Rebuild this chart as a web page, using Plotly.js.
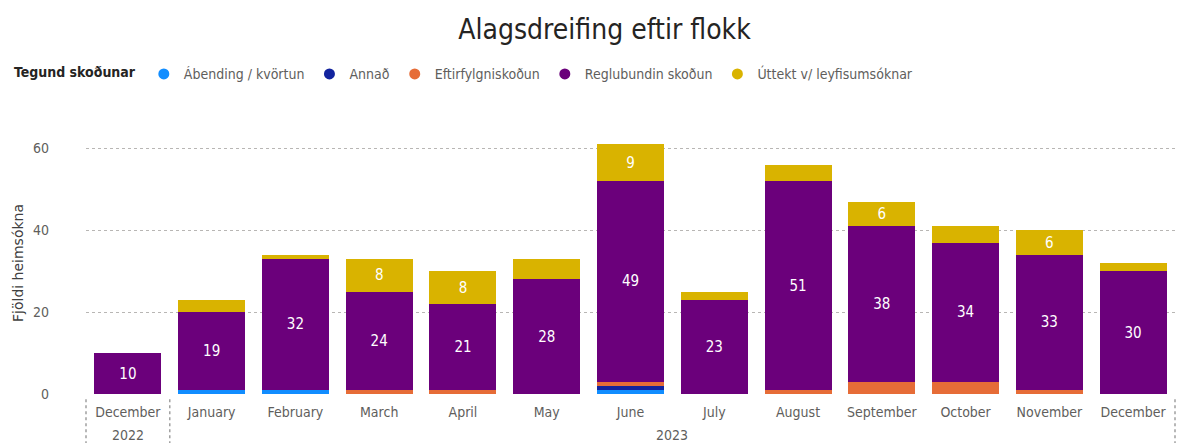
<!DOCTYPE html>
<html>
<head>
<meta charset="utf-8">
<script src="https://cdn.plot.ly/plotly-3.0.1.min.js"></script>
<style>
html,body{margin:0;padding:0;background:#fff;}
#chart{width:1190px;height:443px;}
</style>
</head>
<body>
<div id="chart"></div>
<script>
const years = ['2022','2023','2023','2023','2023','2023','2023','2023','2023','2023','2023','2023','2023'];
const months = ['December','January','February','March','April','May','June','July','August','September','October','November','December'];
const yearLabels = ['2022','2023'];
const seriesNames = ['Ábending / kvörtun','Annað','Eftirfylgniskoðun','Reglubundin skoðun','Úttekt v/ leyfisumsóknar'];
const abending = [0,1,1,0,0,0,1,0,0,0,0,0,0];
const annad    = [0,0,0,0,0,0,1,0,0,0,0,0,0];
const eftir    = [0,0,0,1,1,0,1,0,1,3,3,1,0];
const regl     = [10,19,32,24,21,28,49,23,51,38,34,33,30];
const uttekt   = [0,3,1,8,8,5,9,2,4,6,4,6,2];
const colors = ['#118DFF','#12239E','#E66C37','#6B007B','#D9B300'];

const FONT = '"DejaVu Sans Condensed","Liberation Sans Narrow",sans-serif';
const categories = months.map((m, i) => m + ' ' + years[i]);
const values = [abending, annad, eftir, regl, uttekt];
const minLabel = [99, 99, 99, 1, 6];

const traces = [];
values.forEach((vals, i) => {
  traces.push({
    type: 'bar',
    name: seriesNames[i],
    x: categories,
    y: vals,
    marker: {color: colors[i], line: {width: 0}},
    text: vals.map(v => v >= minLabel[i] ? String(v) : ''),
    textposition: 'inside',
    insidetextanchor: 'middle',
    textfont: {color: '#FFFFFF', size: 15, family: FONT},
    constraintext: 'none',
    hoverinfo: 'y+name',
    showlegend: false,
    legendgroup: 'g' + i
  });
});
// legend entries with round markers
seriesNames.forEach((n, i) => {
  traces.push({
    type: 'scatter',
    mode: 'markers',
    name: n,
    x: [null],
    y: [null],
    marker: {color: colors[i], size: 11, symbol: 'circle'},
    showlegend: true,
    legendgroup: 'g' + i,
    hoverinfo: 'skip'
  });
});

// year label positions: centre of each year's months
const yearAnn = yearLabels.map(yr => {
  const idx = years.map((y, i) => y === yr ? i : -1).filter(i => i >= 0);
  const centre = (idx[0] + idx[idx.length - 1]) / 2;
  return {
    text: yr, x: centre, xref: 'x', y: -0.155, yref: 'paper',
    showarrow: false, yanchor: 'middle', xanchor: 'center',
    font: {size: 14, color: '#605E5C', family: FONT}
  };
});

const layout = {
  width: 1190,
  height: 443,
  margin: {l: 83, r: 15, t: 132, b: 49},
  paper_bgcolor: '#ffffff',
  plot_bgcolor: '#ffffff',
  barmode: 'stack',
  bargap: 0.2,
  font: {family: FONT, color: '#605E5C', size: 14},
  title: {
    text: 'Alagsdreifing eftir flokk',
    x: 0.508, xanchor: 'center',
    y: 0.935, yanchor: 'middle',
    font: {family: FONT, size: 28, color: '#252423'}
  },
  legend: {
    orientation: 'h',
    x: -0.068, xanchor: 'left',
    y: 1.22, yanchor: 'middle',
    title: {text: '<b>Tegund skoðunar</b>', side: 'left', font: {color: '#252423', size: 14, family: FONT}},
    font: {size: 14, color: '#605E5C', family: FONT},
    itemwidth: 30,
    tracegroupgap: 0,
    traceorder: 'normal'
  },
  xaxis: {
    type: 'category',
    categoryorder: 'array',
    categoryarray: categories,
    tickvals: categories,
    ticktext: months,
    showgrid: false,
    zeroline: false,
    showline: false,
    ticks: '',
    ticklabelstandoff: 8,
    tickfont: {size: 14, color: '#605E5C', family: FONT},
    fixedrange: true
  },
  yaxis: {
    range: [0, 64],
    tickvals: [0, 20, 40, 60],
    showgrid: true,
    gridcolor: '#B8B6B4',
    griddash: 'dot',
    gridwidth: 1,
    zeroline: false,
    showline: false,
    ticks: '',
    ticklabelstandoff: 36,
    tickfont: {size: 14, color: '#605E5C', family: FONT},
    title: {text: 'Fjöldi heimsókna', standoff: 6, font: {size: 14, color: '#404040', family: 'DejaVu Sans, sans-serif'}},
    fixedrange: true
  },
  annotations: yearAnn,
  shapes: [0, 1/13, 1].map(p => ({
    type: 'line', xref: 'paper', yref: 'paper',
    x0: p, x1: p, y0: -0.02, y1: -0.19,
    line: {color: '#A0A0A0', width: 1.5, dash: 'dot'}
  }))
};

Plotly.newPlot('chart', traces, layout, {displayModeBar: false, staticPlot: true});
</script>
</body>
</html>
